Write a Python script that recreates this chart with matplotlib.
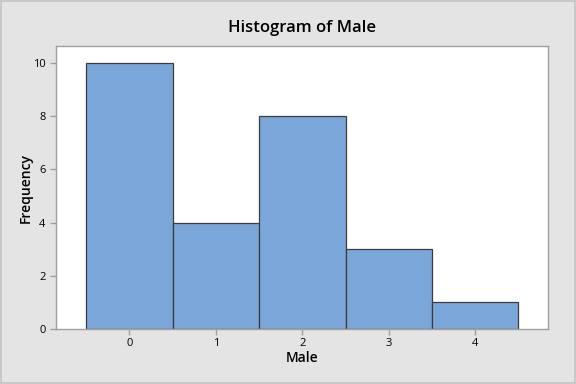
import matplotlib
matplotlib.use('Agg')
import matplotlib.pyplot as plt
import numpy as np

# histogram data
bin_centers = [0, 1, 2, 3, 4]
counts = [10, 4, 8, 3, 1]
y_ticks = [0, 2, 4, 6, 8, 10]

plt.rcParams['font.family'] = ['Open Sans', 'DejaVu Sans']

fig = plt.figure(figsize=(5.76, 3.84), dpi=100)
fig.patch.set_facecolor('#E4E4E4')
fig.patch.set_edgecolor('#C8C8C8')
fig.patch.set_linewidth(1.5)

ax = fig.add_axes([0.0972, 0.143, 0.854, 0.737])
ax.bar(bin_centers, counts, width=1.0, color='#7BA6D9', edgecolor='#3C3C3C', linewidth=0.9)

ax.set_xlim(-0.85, 4.84)
ax.set_ylim(0, 10.64)
ax.set_xticks(bin_centers)
ax.set_yticks(y_ticks)

for s in ax.spines.values():
    s.set_color('#A0A0A0')
    s.set_linewidth(1.0)
ax.tick_params(colors='#A0A0A0', labelcolor='black', labelsize=8, length=4, width=1)
ax.tick_params(axis='x', pad=2.5)

ax.set_title("Histogram of Male", fontsize=12, fontweight='semibold', pad=10)
ax.set_xlabel("Male", fontsize=10, fontweight='semibold', labelpad=1)
ax.set_ylabel("Frequency", fontsize=10, fontweight='semibold', labelpad=0)

fig.savefig('out.png', dpi=100, facecolor=fig.get_facecolor(), edgecolor=fig.get_edgecolor())
